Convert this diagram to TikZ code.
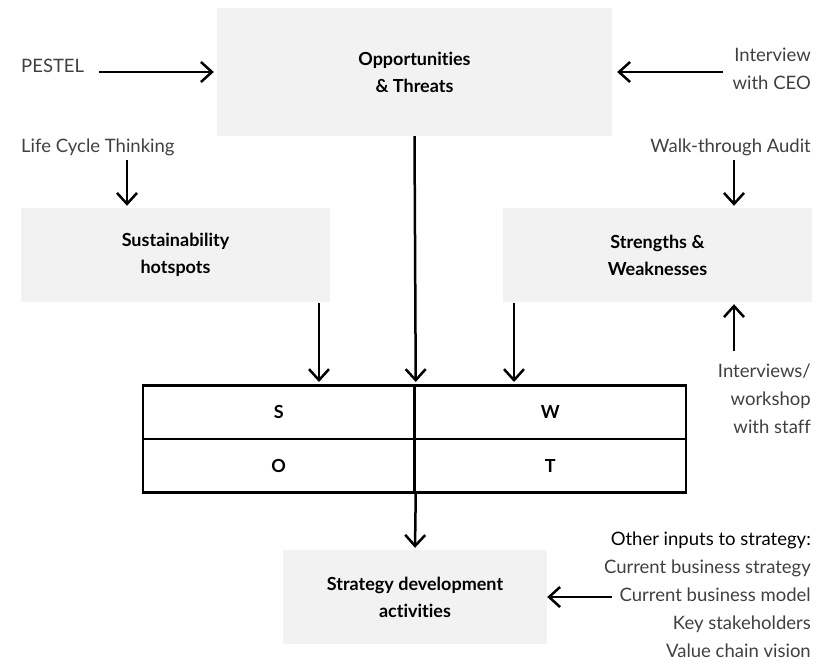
\documentclass[tikz,border=0pt]{standalone}
\usepackage{fontspec}
\setmainfont{Lato}[Ligatures=CommonOff]
\usetikzlibrary{arrows.meta}
\definecolor{boxgray}{HTML}{F2F2F2}
\definecolor{labelgray}{HTML}{404040}
\tikzset{>={Straight Barb[length=11pt,width=20pt]}}
\tikzset{
  greybox/.style = {fill = boxgray, align = center, inner sep = 0pt,
    font = \fontsize{18}{27}\selectfont\bfseries},
  cell/.style = {draw, line width = 2.5pt, minimum width = 271.5pt, minimum height = 53.5pt,
    inner sep = 0pt, font = \fontsize{18}{20}\selectfont\bfseries},
  lbl/.style = {text = labelgray, inner sep = 0pt, font = \fontsize{18.5}{28}\selectfont},
  feed/.style = {->, line width = 2.5pt},
}

\begin{document}
\begin{tikzpicture}[x=1pt, y=-1pt]
\useasboundingbox (0,0) rectangle (817,661);

\node[greybox, minimum width = 395pt, minimum height = 128pt] (ot) at (414.5,72) {Opportunities\\ \& Threats};
\node[greybox, minimum width = 309pt, minimum height = 94pt] (sh) at (175.5,255) {Sustainability\\ hotspots};
\node[greybox, minimum width = 309pt, minimum height = 94pt] (sw) at (657.5,255) {Strengths \&\\ Weaknesses};
\node[greybox, minimum width = 264pt, minimum height = 94pt] (sda) at (415,597) {Strategy development\\ activities};

\node[cell] (s) at (278.75,412) {S};
\node[cell] (w) at (550.25,412) {W};
\node[cell] (o) at (278.75,465.5) {O};
\node[cell] (t) at (550.25,465.5) {T};

\node[lbl, anchor = west] (pestel) at (21,66) {PESTEL};
\node[lbl, anchor = north east, align = right] (ceo) at (811,48) {Interview\\ with CEO};
\node[lbl, anchor = west] (lct) at (21,147) {Life Cycle Thinking};
\node[lbl, anchor = east] (wta) at (811,147) {Walk-through Audit};
\node[lbl, anchor = north east, align = right] (staff) at (811,364) {Interviews/\\ workshop\\ with staff};
\node[lbl, anchor = north east, align = right] (other) at (811,532) {\textcolor{black}{Other inputs to strategy:}\\
  Current business strategy\\ Current business model\\ Key stakeholders\\ Value chain vision};

\coordinate (pestelout) at (99,72);
\coordinate (ceoout) at (723,72);
\coordinate (lctout) at (127,160);
\coordinate (wtaout) at (734,160);
\coordinate (staffout) at (734,351);
\coordinate (otherout) at (612,597);
\coordinate (shout) at (319,303);
\coordinate (swout) at (514,303);

\draw[feed, shorten > = 3pt] (pestelout) -- (ot.west);
\draw[feed, shorten > = 5pt] (ceoout) -- (ot.east);
\draw[feed, shorten > = 2pt] (lctout) -- (lctout |- sh.north);
\draw[feed, shorten > = 2pt] (wtaout) -- (wtaout |- sw.north);
\draw[feed, shorten > = 2pt] (staffout) -- (staffout |- sw.south);
\draw[feed, shorten > = 2pt] (shout) -- (shout |- s.north);
\draw[feed, shorten > = 2pt] (ot.south) -- (s.north east);
\draw[feed, shorten > = 2pt] (swout) -- (swout |- w.north);
\draw[feed, shorten > = 2pt] (o.south east) -- (sda.north);
\draw[feed] (otherout) -- (sda.east);
\end{tikzpicture}
\end{document}
